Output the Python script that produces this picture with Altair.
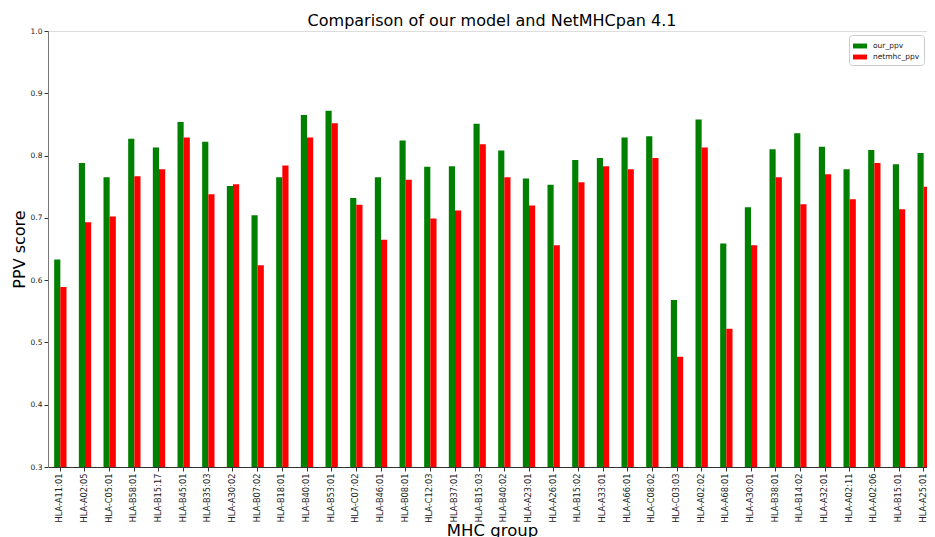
import altair as alt
import pandas as pd

groups = [
    "HLA-A11:01", "HLA-A02:05", "HLA-C05:01", "HLA-B58:01", "HLA-B15:17", "HLA-B45:01",
    "HLA-B35:03", "HLA-A30:02", "HLA-B07:02", "HLA-B18:01", "HLA-B40:01", "HLA-B53:01",
    "HLA-C07:02", "HLA-B46:01", "HLA-B08:01", "HLA-C12:03", "HLA-B37:01", "HLA-B15:03",
    "HLA-B40:02", "HLA-A23:01", "HLA-A26:01", "HLA-B15:02", "HLA-A33:01", "HLA-A66:01",
    "HLA-C08:02", "HLA-C03:03", "HLA-A02:02", "HLA-A68:01", "HLA-A30:01", "HLA-B38:01",
    "HLA-B14:02", "HLA-A32:01", "HLA-A02:11", "HLA-A02:06", "HLA-B15:01", "HLA-A25:01",
]
our_ppv = [
    0.633, 0.788, 0.765, 0.827, 0.813, 0.854,
    0.822, 0.751, 0.704, 0.765, 0.865, 0.872,
    0.732, 0.765, 0.824, 0.782, 0.783, 0.851,
    0.808, 0.763, 0.753, 0.793, 0.796, 0.829,
    0.831, 0.568, 0.858, 0.659, 0.717, 0.810,
    0.836, 0.814, 0.778, 0.809, 0.786, 0.804,
]
netmhc_ppv = [
    0.589, 0.693, 0.702, 0.767, 0.778, 0.829,
    0.738, 0.754, 0.624, 0.784, 0.829, 0.852,
    0.721, 0.665, 0.761, 0.699, 0.712, 0.818,
    0.765, 0.720, 0.656, 0.757, 0.783, 0.778,
    0.796, 0.477, 0.813, 0.522, 0.656, 0.765,
    0.722, 0.770, 0.730, 0.788, 0.714, 0.750,
]
series = ["our_ppv", "netmhc_ppv"]
colors = ["#008000", "#ff0000"]

rows = []
for g, a, b in zip(groups, our_ppv, netmhc_ppv):
    rows.append({"group": g, "series": "our_ppv", "value": a})
    rows.append({"group": g, "series": "netmhc_ppv", "value": b})
df = pd.DataFrame(rows)

FONT = "DejaVu Sans"
PLOT_W = 888
PAD_L = 40
PAD_R = 919 - PAD_L - PLOT_W  # keep the svg exactly as wide as the page body

chart = (
    alt.Chart(df)
    .mark_bar(clip=True)
    .encode(
        x=alt.X(
            "group:N",
            sort=groups,
            scale=alt.Scale(paddingInner=0.5, paddingOuter=0.25),
            axis=alt.Axis(
                title="MHC group",
                titleFontSize=16.5,
                titleFont=FONT,
                titleFontWeight="normal",
                titleColor="#000",
                titlePadding=0,
                labelAngle=270,
                labelFont=FONT,
                labelFontSize=8.3,
                labelColor="#222",
                labelPadding=2,
                tickSize=4,
                tickColor="#333",
                domainColor="#333",
            ),
        ),
        xOffset=alt.XOffset("series:N", sort=series,
                            scale=alt.Scale(paddingInner=0, paddingOuter=0)),
        y=alt.Y(
            "value:Q",
            scale=alt.Scale(domain=[0.3, 1.0], nice=False, zero=False),
            axis=alt.Axis(
                title="PPV score",
                titleFontSize=16,
                titleFont=FONT,
                titleFontWeight="normal",
                titleColor="#000",
                titlePadding=3,
                values=[0.3, 0.4, 0.5, 0.6, 0.7, 0.8, 0.9, 1.0],
                format=".1f",
                labelFont=FONT,
                labelFontSize=7.5,
                labelColor="#222",
                labelPadding=2,
                tickSize=4,
                tickColor="#333",
                domainColor="#777",
                grid=False,
            ),
        ),
        color=alt.Color(
            "series:N",
            sort=series,
            scale=alt.Scale(domain=series, range=colors),
            legend=alt.Legend(
                title=None,
                orient="none",
                legendX=801,
                legendY=4,
                strokeColor="#cccccc",
                fillColor="white",
                padding=4,
                cornerRadius=3,
                symbolType="M-1,-0.35H1V0.35H-1Z",
                symbolSize=196,
                symbolStrokeWidth=0,
                labelFont=FONT,
                labelFontSize=7.5,
                labelColor="#222",
                labelOffset=6,
                rowPadding=0,
            ),
        ),
    )
    .properties(
        width=PLOT_W,
        height=436,
        title=alt.TitleParams(
            "Comparison of our model and NetMHCpan 4.1",
            font=FONT,
            fontSize=16,
            fontWeight="normal",
            color="#000",
            anchor="middle",
            offset=4,
            dy=6,
        ),
        autosize=alt.AutoSizeParams(type="none"),
        padding={"left": PAD_L, "top": 23, "right": PAD_R, "bottom": 70},
    )
    .configure_view(stroke="#444", strokeWidth=1)
    .configure(background="white")
)

chart.save("out.html", embed_options={"renderer": "svg", "actions": False})
